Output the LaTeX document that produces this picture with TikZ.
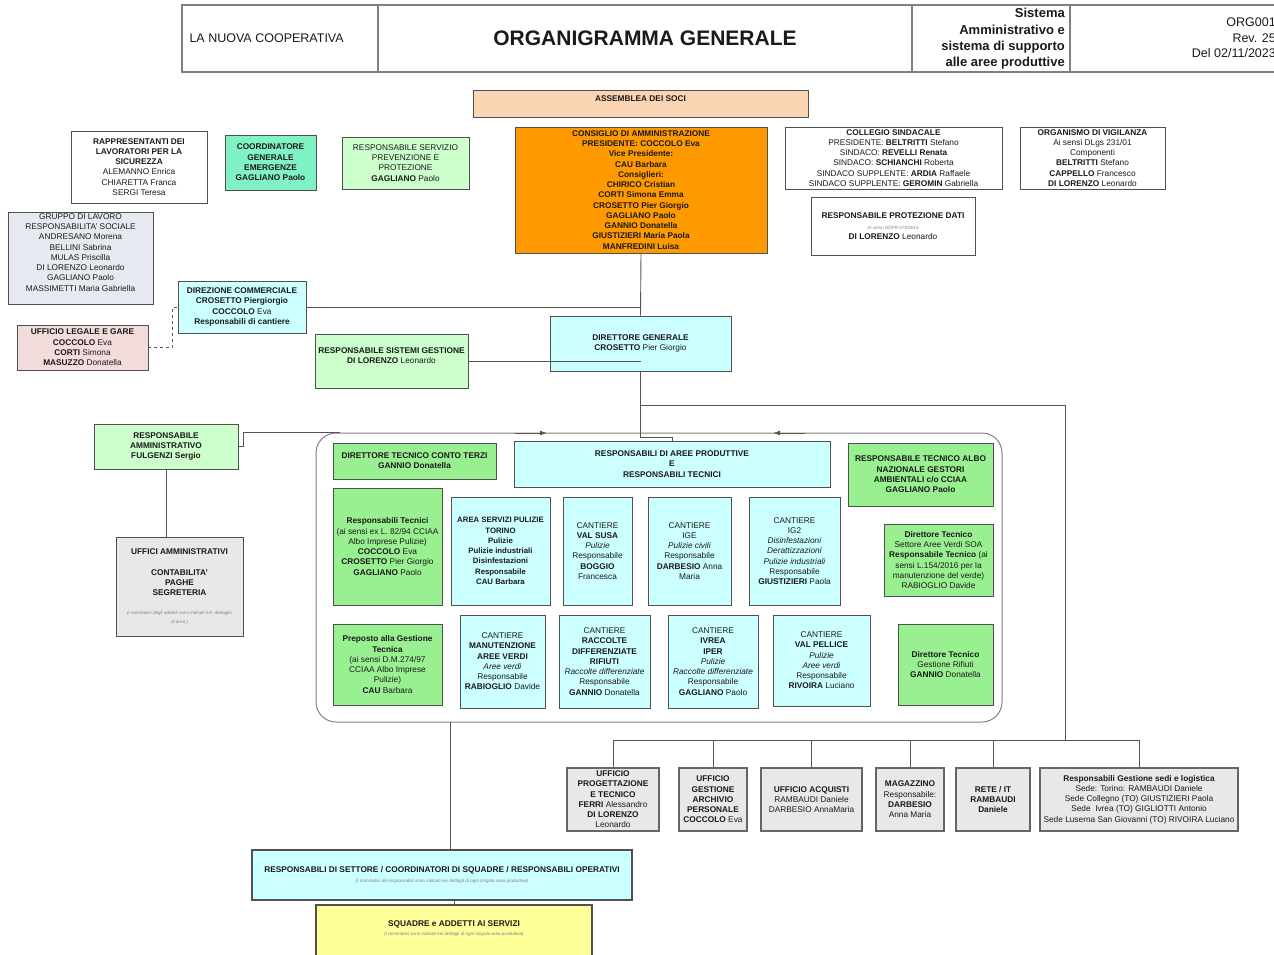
\documentclass[tikz,border=0pt]{standalone}
\usepackage{fontspec}
\setmainfont{Liberation Sans}
\usetikzlibrary{arrows.meta,calc}
\definecolor{cpeach}{HTML}{FBD4B4}
\definecolor{corng}{HTML}{FF9900}
\definecolor{clgreen}{HTML}{CCFFCC}
\definecolor{cbgreen}{HTML}{99F090}
\definecolor{caqua}{HTML}{80F2C4}
\definecolor{clcyan}{HTML}{CCFFFF}
\definecolor{cgrayblue}{HTML}{E6EAF0}
\definecolor{cpink}{HTML}{F2DCDB}
\definecolor{clgray}{HTML}{E8E8E8}
\definecolor{clyellow}{HTML}{FFFF99}
\definecolor{cbord}{HTML}{505050}
\definecolor{clnc}{HTML}{555555}
\definecolor{ctxt}{HTML}{1A1A1A}
\newcommand\obox[7]{\node[#6, minimum width={(#4)-(#2)}, minimum height={(#5)-(#3)}] (#1) at ({((#2)+(#4))/2},{((#3)+(#5))/2}) {#7};}
\newcommand\tnote[1]{{\fontsize{4.6}{6}\selectfont\itshape\color{gray}#1}}
\tikzset{
  box/.style={draw=cbord, line width=0.8pt, align=center, inner sep=1pt, text=ctxt,
    font=\fontsize{8.3}{10.25}\selectfont},
  bbox/.style={box, font=\fontsize{8.3}{10.25}\selectfont\bfseries},
  obx/.style={box, draw=clnc!90, line width=1.6pt, fill=clgray},
  conn/.style={draw=clnc, line width=0.9pt},
  hdr/.style={draw=gray, line width=1.5pt},
}
\begin{document}
\begin{tikzpicture}[x=1pt,y=-1pt]
\useasboundingbox (0,0) rectangle (1274,954);
% header
\draw[hdr] (182,5) rectangle (1282,72);
\draw[hdr] (378,5) -- (378,72) (912,5) -- (912,72) (1070,5) -- (1070,72);
\node[anchor=west, font=\fontsize{12.5}{15}\selectfont, text=ctxt] (hcoop) at (186,38) {LA NUOVA COOPERATIVA};
\node[font=\fontsize{21}{24}\selectfont\bfseries, text=ctxt] (htitle) at (645,38) {ORGANIGRAMMA GENERALE};
\node[anchor=east, align=right, font=\fontsize{13}{16.3}\selectfont\bfseries, text=ctxt, inner sep=0pt] (hsys) at (1065,39) {Sistema\\Amministrativo e\\sistema di supporto\\alle aree produttive};
\node[anchor=east, align=right, font=\fontsize{12.5}{15.5}\selectfont, text=ctxt, inner sep=0pt] (horg) at (1276,38) {ORG001\\Rev. 25\\Del 02/11/2023};

% area rounded frame
\node[draw=gray, line width=1pt, rounded corners=20pt, minimum width=686, minimum height=289] (area) at (659,577.5) {};

% top boxes
\obox{assemblea}{473}{90}{808}{117}{box, fill=cpeach}{\textbf{ASSEMBLEA DEI SOCI}\\~}
\obox{cda}{515}{127}{767}{253}{bbox, fill=corng}{CONSIGLIO DI AMMINISTRAZIONE\\PRESIDENTE: COCCOLO Eva\\Vice Presidente:\\CAU Barbara\\Consiglieri:\\CHIRICO Cristian\\CORTI Simona Emma\\CROSETTO Pier Giorgio\\GAGLIANO Paolo\\GANNIO Donatella\\GIUSTIZIERI Maria Paola\\MANFREDINI Luisa}
\obox{rls}{71}{131}{207}{203}{box, fill=white}{\textbf{RAPPRESENTANTI DEI}\\\textbf{LAVORATORI PER LA}\\\textbf{SICUREZZA}\\ALEMANNO Enrica\\CHIARETTA Franca\\SERGI Teresa}
\obox{coord}{225}{135}{316}{190}{bbox, fill=caqua}{COORDINATORE\\GENERALE\\EMERGENZE\\GAGLIANO Paolo}
\obox{rspp}{342}{137}{469}{189}{box, fill=clgreen}{RESPONSABILE SERVIZIO\\PREVENZIONE E\\PROTEZIONE\\\textbf{GAGLIANO} Paolo}
\obox{collegio}{785}{127}{1002}{189}{box, fill=white}{\textbf{COLLEGIO SINDACALE}\\PRESIDENTE: \textbf{BELTRITTI} Stefano\\SINDACO: \textbf{REVELLI Renata}\\SINDACO: \textbf{SCHIANCHI} Roberta\\SINDACO SUPPLENTE: \textbf{ARDIA} Raffaele\\SINDACO SUPPLENTE: \textbf{GEROMIN} Gabriella}
\obox{odv}{1020}{127}{1165}{189}{box, fill=white}{\textbf{ORGANISMO DI VIGILANZA}\\Ai sensi DLgs 231/01\\Componenti\\\textbf{BELTRITTI} Stefano\\\textbf{CAPPELLO} Francesco\\\textbf{DI LORENZO} Leonardo}
\obox{rpd}{811}{197}{975}{255}{box, fill=white}{\textbf{RESPONSABILE PROTEZIONE DATI}\\[1pt]\tnote{Ai sensi GDPR 679/2016}\\\textbf{DI LORENZO} Leonardo}
\obox{gruppo}{8}{213}{153}{304}{box, fill=cgrayblue}{GRUPPO DI LAVORO\\RESPONSABILITA' SOCIALE\\ANDRESANO Morena\\BELLINI Sabrina\\MULAS Priscilla\\DI LORENZO Leonardo\\GAGLIANO Paolo\\MASSIMETTI Maria Gabriella\\[2pt]~}
\obox{dircomm}{178}{281}{306}{333}{box, fill=clcyan}{\textbf{DIREZIONE COMMERCIALE}\\\textbf{CROSETTO Piergiorgio}\\\textbf{COCCOLO} Eva\\\textbf{Responsabili di cantiere}}
\obox{legale}{17}{325}{148}{370}{box, fill=cpink}{\textbf{UFFICIO LEGALE E GARE}\\\textbf{COCCOLO} Eva\\\textbf{CORTI} Simona\\\textbf{MASUZZO} Donatella}
\obox{rsg}{315}{334}{468}{388}{box, fill=clgreen}{\textbf{RESPONSABILE SISTEMI GESTIONE}\\\textbf{DI LORENZO} Leonardo\\~}
\obox{dg}{550}{316}{731}{371}{box, fill=clcyan}{\textbf{DIRETTORE GENERALE}\\\textbf{CROSETTO} Pier Giorgio}

% left middle
\obox{ramm}{94}{424}{238}{469}{bbox, fill=clgreen}{RESPONSABILE\\AMMINISTRATIVO\\FULGENZI Sergio}
\obox{uffamm}{116}{537}{243}{636}{box, fill=clgray}{\textbf{UFFICI AMMINISTRATIVI}\\~\\\textbf{CONTABILITA'}\\\textbf{PAGHE}\\\textbf{SEGRETERIA}\\~\\[-2pt]\tnote{(I nominativi degli addetti sono indicati nel\ \ dettaglio}\\[-1pt]\tnote{di area )}}

% inside area
\obox{dtct}{333}{443}{496}{479}{box, fill=cbgreen}{\textbf{DIRETTORE TECNICO CONTO TERZI}\\\textbf{GANNIO Donatella}}
\obox{aree}{514}{441}{830}{487}{bbox, fill=clcyan}{RESPONSABILI DI AREE PRODUTTIVE\\E\\RESPONSABILI TECNICI}
\obox{albo}{848}{443}{993}{506}{bbox, fill=cbgreen}{RESPONSABILE TECNICO ALBO\\NAZIONALE GESTORI\\AMBIENTALI c/o CCIAA\\GAGLIANO Paolo}
\obox{resptec}{333}{488}{442}{605}{box, fill=cbgreen}{\textbf{Responsabili Tecnici}\\(ai sensi ex L. 82/94 CCIAA\\Albo Imprese Pulizie)\\\textbf{COCCOLO} Eva\\\textbf{CROSETTO} Pier Giorgio\\\textbf{GAGLIANO} Paolo}
\obox{pulizie}{451}{497}{550}{605}{box, fill=clcyan, font=\fontsize{7.8}{10.25}\selectfont\bfseries}{AREA SERVIZI PULIZIE\\TORINO\\Pulizie\\Pulizie industriali\\Disinfestazioni\\Responsabile\\CAU Barbara}
\obox{valsusa}{563}{497}{632}{605}{box, fill=clcyan}{CANTIERE\\\textbf{VAL SUSA}\\\textit{Pulizie}\\Responsabile\\\textbf{BOGGIO}\\Francesca}
\obox{ige}{648}{497}{731}{605}{box, fill=clcyan}{CANTIERE\\IGE\\\textit{Pulizie civili}\\Responsabile\\\textbf{DARBESIO} Anna\\Maria}
\obox{igdue}{749}{497}{840}{605}{box, fill=clcyan}{CANTIERE\\IG2\\\textit{Disinfestazioni}\\\textit{Derattizzazioni}\\\textit{Pulizie industriali}\\Responsabile\\\textbf{GIUSTIZIERI} Paola}
\obox{dtverde}{884}{524}{993}{596}{box, fill=cbgreen}{\textbf{Direttore Tecnico}\\Settore Aree Verdi SOA\\\textbf{Responsabile Tecnico} (ai\\sensi L.154/2016 per la\\manutenzione del verde)\\RABIOGLIO Davide}
\obox{preposto}{333}{624}{442}{705}{box, fill=cbgreen}{\textbf{Preposto alla Gestione}\\\textbf{Tecnica}\\(ai sensi D.M.274/97\\CCIAA Albo Imprese\\Pulizie)\\\textbf{CAU} Barbara}
\obox{manut}{460}{615}{545}{708}{box, fill=clcyan}{CANTIERE\\\textbf{MANUTENZIONE}\\\textbf{AREE VERDI}\\\textit{Aree verdi}\\Responsabile\\\textbf{RABIOGLIO} Davide}
\obox{raccolte}{559}{615}{650}{708}{box, fill=clcyan}{CANTIERE\\\textbf{RACCOLTE}\\\textbf{DIFFERENZIATE}\\\textbf{RIFIUTI}\\\textit{Raccolte differenziate}\\Responsabile\\\textbf{GANNIO} Donatella}
\obox{ivrea}{668}{615}{758}{708}{box, fill=clcyan}{CANTIERE\\\textbf{IVREA}\\\textbf{IPER}\\\textit{Pulizie}\\\textit{Raccolte differenziate}\\Responsabile\\\textbf{GAGLIANO} Paolo}
\obox{pellice}{773}{615}{870}{706}{box, fill=clcyan}{CANTIERE\\\textbf{VAL PELLICE}\\\textit{Pulizie}\\\textit{Aree verdi}\\Responsabile\\\textbf{RIVOIRA} Luciano}
\obox{dtrifiuti}{898}{624}{993}{705}{box, fill=cbgreen}{\textbf{Direttore Tecnico}\\Gestione Rifiuti\\\textbf{GANNIO} Donatella}

% offices
\obox{prog}{567}{768}{659}{831}{obx}{\textbf{UFFICIO}\\\textbf{PROGETTAZIONE}\\\textbf{E TECNICO}\\\textbf{FERRI} Alessandro\\\textbf{DI LORENZO}\\Leonardo}
\obox{archivio}{679}{768}{747}{831}{obx}{\textbf{UFFICIO}\\\textbf{GESTIONE}\\\textbf{ARCHIVIO}\\\textbf{PERSONALE}\\\textbf{COCCOLO} Eva}
\obox{acquisti}{761}{768}{862}{831}{obx}{\textbf{UFFICIO ACQUISTI}\\RAMBAUDI Daniele\\DARBESIO AnnaMaria}
\obox{magazzino}{876}{768}{944}{831}{obx}{\textbf{MAGAZZINO}\\Responsabile:\\\textbf{DARBESIO}\\Anna Maria}
\obox{rete}{956}{768}{1030}{831}{obx}{\textbf{RETE / IT}\\\textbf{RAMBAUDI}\\\textbf{Daniele}}
\obox{sedi}{1040}{768}{1238}{831}{obx}{\textbf{Responsabili Gestione sedi e logistica}\\Sede: Torino: RAMBAUDI Daniele\\Sede Collegno (TO) GIUSTIZIERI Paola\\Sede\ \ Ivrea (TO) GIGLIOTTI Antonio\\Sede Luserna San Giovanni (TO) RIVOIRA Luciano}

% bottom
\obox{rds}{252}{850}{632}{900}{box, fill=clcyan, line width=1.2pt}{\textbf{RESPONSABILI DI SETTORE / COORDINATORI DI SQUADRE / RESPONSABILI OPERATIVI}\\[-1pt]\tnote{(I nominativi dei responsabili sono indicati nei dettagli di ogni singola area produttiva)}}
\obox{squadre}{316}{905}{592}{962}{box, fill=clyellow, line width=1.2pt}{\textbf{SQUADRE e ADDETTI AI SERVIZI}\\[-1pt]\tnote{(I nominativi sono indicati nei dettagli di ogni singola area produttiva)}\\~}

% connectors
\draw[conn] (cda.south) -- (dg.north);
\draw[conn] (dircomm.east) -- (dircomm.east -| dg.north);
\draw[conn] (rsg.east) -- (rsg.east -| dg.north);
\draw[conn, dashed] (legale.east) -- ++(24,0) |- (dircomm.west);
\draw[conn] (dg.south) -- (dg.south |- 0,437) -| (aree.north);
\coordinate (jdg) at (640.5,405);
\coordinate (jright) at (1065,405);
\coordinate (bus) at (1065,740);
\draw[conn] (jdg) -- (jright) -- (bus);
\draw[conn] (prog.north |- bus) -- (sedi.north |- bus);
\foreach \o in {prog,archivio,acquisti,magazzino,rete,sedi}
  \draw[conn] (\o.north) -- (\o.north |- bus);
\draw[conn] (ramm.east) -- ++(5,0) |- ([xshift=24pt]area.north west);
\draw[conn] (ramm.south) -- (ramm.south |- uffamm.north);
\draw[conn, -{Latex[length=7pt,width=5pt]}] (515,433) -- (547,433);
\draw[conn, -{Latex[length=7pt,width=5pt]}] (805,433) -- (773,433);
\coordinate (rb) at (450,722);
\draw[conn] (rb) -- (rb |- rds.north);
\draw[conn] (rds.south -| squadre.north) -- (squadre.north);
\end{tikzpicture}
\end{document}
